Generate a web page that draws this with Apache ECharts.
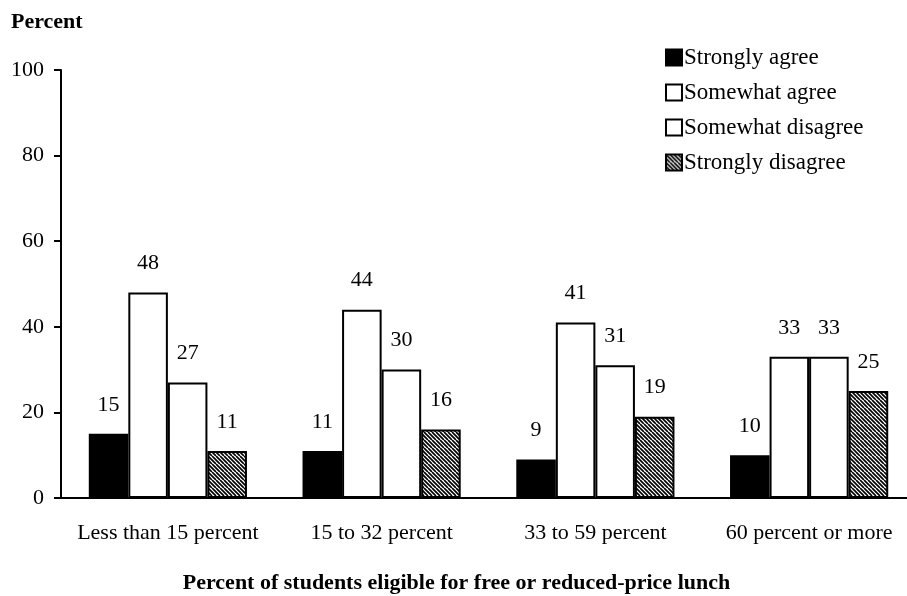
<!DOCTYPE html>
<html>
<head>
<meta charset="utf-8">
<script src="https://cdn.jsdelivr.net/npm/echarts@6/dist/echarts.min.js"></script>
<style>html,body{margin:0;padding:0;background:#fff}#c{width:907px;height:596px}</style>
</head>
<body>
<div id="c"></div>
<script>
var categories = ['Less than 15 percent', '15 to 32 percent', '33 to 59 percent', '60 percent or more'];
var seriesNames = ['Strongly agree', 'Somewhat agree', 'Somewhat disagree', 'Strongly disagree'];
var stronglyAgree = [15, 11, 9, 10];
var somewhatAgree = [48, 44, 41, 33];
var somewhatDisagree = [27, 30, 31, 33];
var stronglyDisagree = [11, 16, 19, 25];
var yTicks = {min: 0, max: 100, interval: 20};

var FONT = 'Liberation Serif';

function hatch() {
  var c = document.createElement('canvas');
  c.width = 8; c.height = 8;
  var g = c.getContext('2d');
  g.fillStyle = '#fff'; g.fillRect(0, 0, 8, 8);
  g.strokeStyle = '#000'; g.lineWidth = 1.7;
  for (var k = -8; k <= 8; k += 4) {
    g.beginPath(); g.moveTo(k, 0); g.lineTo(k + 8, 8); g.stroke();
  }
  return {image: c, repeat: 'repeat'};
}

var fills = ['#000', '#fff', '#fff', hatch()];
var values = [stronglyAgree, somewhatAgree, somewhatDisagree, stronglyDisagree];

var chart = echarts.init(document.getElementById('c'), null, {renderer: 'canvas'});
chart.setOption({
  animation: false,
  backgroundColor: '#fff',
  title: {
    text: 'Percent', left: 6, top: 6,
    textStyle: {fontFamily: FONT, fontWeight: 'bold', fontSize: 22, color: '#000'}
  },
  legend: {
    orient: 'vertical', left: 660, top: 41,
    itemWidth: 16, itemHeight: 16, itemGap: 12, icon: 'rect',
    textStyle: {fontFamily: FONT, fontSize: 23, color: '#000', padding: [0, 0, 0, -3]},
    data: seriesNames
  },
  grid: {left: 61, top: 70, bottom: 98, right: -9, outerBoundsMode: 'none', containLabel: false},
  xAxis: {
    type: 'category', data: categories,
    axisLine: {lineStyle: {color: '#000', width: 2}},
    axisTick: {show: false},
    axisLabel: {interval: 0, fontFamily: FONT, fontSize: 22, color: '#000', margin: 24},
    name: 'Percent of students eligible for free or reduced-price lunch',
    nameLocation: 'middle', nameGap: 74,
    nameTextStyle: {fontFamily: FONT, fontWeight: 'bold', fontSize: 22, color: '#000', padding: [0, 64, 0, 0]}
  },
  yAxis: {
    type: 'value', min: yTicks.min, max: yTicks.max, interval: yTicks.interval,
    splitLine: {show: false},
    axisLine: {show: true, lineStyle: {color: '#000', width: 2}},
    axisTick: {show: true, length: 7, lineStyle: {color: '#000', width: 2}},
    axisLabel: {fontFamily: FONT, fontSize: 22, color: '#000', margin: 17}
  },
  series: seriesNames.map(function (n, i) {
    return {
      name: n, type: 'bar', data: values[i],
      barGap: '0%', barCategoryGap: '26%',
      itemStyle: {color: fills[i], borderColor: '#000', borderWidth: 2},
      label: {show: true, position: 'top', distance: 18, fontFamily: FONT, fontSize: 22, color: '#000'}
    };
  })
});
</script>
</body>
</html>
